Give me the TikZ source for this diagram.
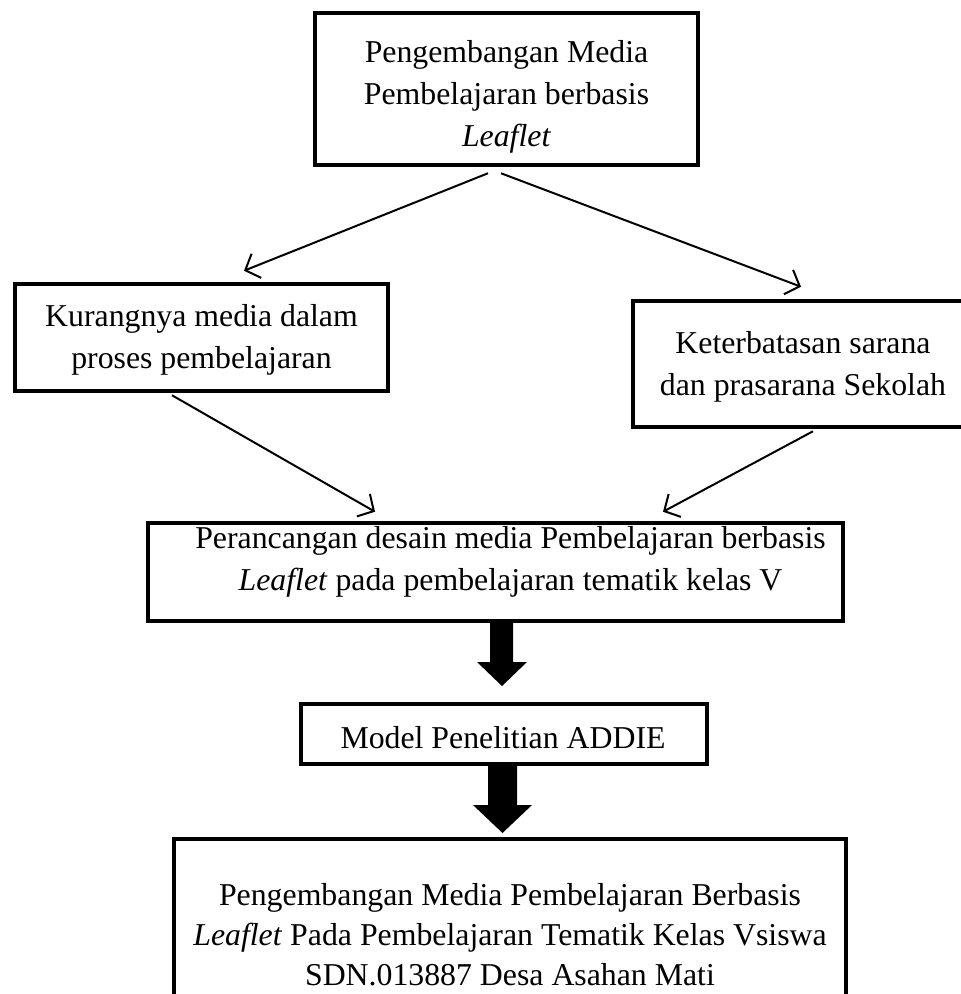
\documentclass[tikz,border=0pt]{standalone}
\usepackage{fontspec}
\setmainfont{Liberation Serif}
\usetikzlibrary{arrows.meta,calc}
\begin{document}
\begin{tikzpicture}[x=1pt,y=-1pt,
  box/.style={draw, line width=4.5pt, rectangle, inner sep=0pt},
  txt/.style={align=center, inner sep=0pt, font=\fontsize{31.8}{42}\selectfont},
  thinarrow/.style={line width=2pt, -{Straight Barb[length=12pt,width=26pt,line width=2pt]}},
  blockarrow/.style={fill=black}]
\useasboundingbox (0,0) rectangle (961,994);
\fill[white] (0,0) rectangle (961,994);
\clip (0,0) rectangle (961,994);

% boxes
\node[box, minimum width=383pt, minimum height=152pt] (top) at (506.5,89) {};
\node[box, minimum width=373pt, minimum height=107pt] (left) at (201.5,337.5) {};
\node[box, minimum width=340pt, minimum height=126pt] (right) at (803,364) {};
\node[box, minimum width=695pt, minimum height=98pt] (mid) at (495.5,572) {};
\node[box, minimum width=406pt, minimum height=60pt] (addie) at (504,734) {};
\node[box, minimum width=672pt, minimum height=190pt] (bottom) at (510,934) {};

% texts
\node[txt] (toptext) at ($(top)+(0,8)$) {Pengembangan Media\\Pembelajaran berbasis\\\textit{Leaflet}};
\node[txt] (lefttext) at ($(left)+(0,2)$) {Kurangnya media dalam\\proses pembelajaran};
\node[txt] (righttext) at ($(right)+(0,3)$) {Keterbatasan sarana\\dan prasarana Sekolah};
\node[txt] (midtext) at ($(mid)+(15,-10)$) {Perancangan desain media Pembelajaran berbasis\\\textit{Leaflet} pada pembelajaran tematik kelas V};
\node[txt] (addietext) at ($(addie)+(-1,4)$) {Model Penelitian ADDIE};
\node[txt, font=\fontsize{31.8}{40}\selectfont] (bottomtext) at ($(bottom)+(0,1)$) {Pengembangan Media Pembelajaran Berbasis\\\textit{Leaflet} Pada Pembelajaran Tematik Kelas Vsiswa\\SDN.013887 Desa Asahan Mati};

% thin arrows
\coordinate (a1s) at ($(top.south)+(-18.5,6)$);
\coordinate (a2s) at ($(top.south)+(-5.5,6)$);
\coordinate (a1e) at ($(left.north)+(42.5,-11)$);
\coordinate (a2e) at ($(right.north)+(-2,-12)$);
\coordinate (a3s) at ($(left.south)+(-29.5,2)$);
\coordinate (a4s) at ($(right.south)+(10,2)$);
\coordinate (a3e) at ($(mid.north)+(-120.5,-9)$);
\coordinate (a4e) at ($(mid.north)+(167.5,-9)$);
\draw[thinarrow] (a1s) -- (a1e);
\draw[thinarrow] (a2s) -- (a2e);
\draw[thinarrow] (a3s) -- (a3e);
\draw[thinarrow] (a4s) -- (a4e);

% block arrows
\fill[blockarrow] (490,623) -- (490,662) -- (477,662) -- (502,686) -- (527,662) -- (513,662) -- (513,623) -- cycle;
\fill[blockarrow] (488,766) -- (488,805) -- (473,805) -- (502.5,833) -- (532,805) -- (517,805) -- (517,766) -- cycle;
\end{tikzpicture}
\end{document}
